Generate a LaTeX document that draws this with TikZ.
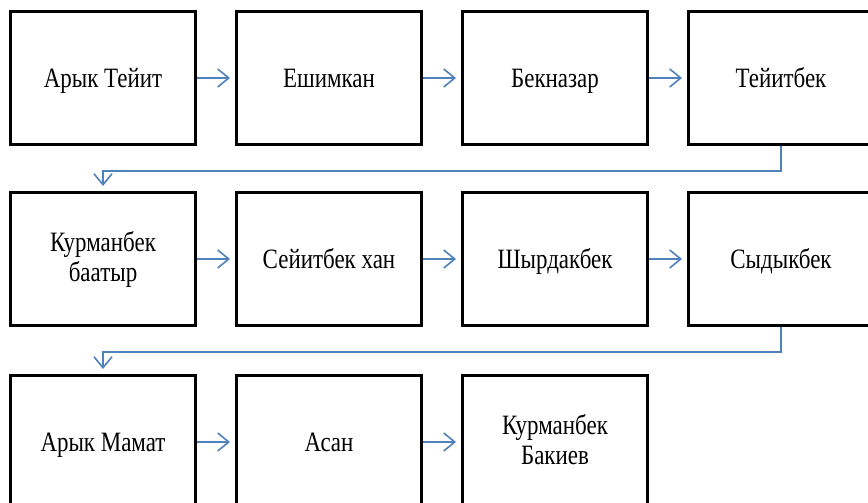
\documentclass[tikz,border=0pt]{standalone}
\usepackage{fontspec}
\setmainfont[FakeStretch=0.82]{Liberation Serif}
\usetikzlibrary{arrows.meta}
\definecolor{linkblue}{RGB}{79,129,189}
\newcommand{\boxstrut}{\rule[-6pt]{0pt}{31pt}}
\begin{document}
\begin{tikzpicture}[x=1pt,y=-1pt,
  box/.style={draw=black,line width=3pt,minimum width=185pt,minimum height=133pt,
              inner sep=0pt,align=center,font=\fontsize{28}{30}\selectfont,
              execute at begin node=\boxstrut,execute at end node=\boxstrut},
  link/.style={->,>={Straight Barb[length=11pt,width=18pt]},color=linkblue,line width=1.6pt,shorten >=5pt}]
\useasboundingbox (0,0) rectangle (868,503);
\clip (0,0) rectangle (868,503);

\node[box] (t1) at (103,78) {Арык Тейит};
\node[box] (t2) at (329,78) {Ешимкан};
\node[box] (t3) at (555,78) {Бекназар};
\node[box] (t4) at (781,78) {Тейитбек};

\node[box] (k1) at (103,259) {Курманбек\\баатыр};
\node[box] (k2) at (329,259) {Сейитбек хан};
\node[box] (k3) at (555,259) {Шырдакбек};
\node[box] (k4) at (781,259) {Сыдыкбек};

\node[box] (m1) at (103,442) {Арык Мамат};
\node[box] (m2) at (329,442) {Асан};
\node[box] (m3) at (555,442) {Курманбек\\Бакиев};

\draw[link] (t1) -- (t2);
\draw[link] (t2) -- (t3);
\draw[link] (t3) -- (t4);
\draw[link] (t4.south) -- ++(0,25) -| (k1.north);

\draw[link] (k1) -- (k2);
\draw[link] (k2) -- (k3);
\draw[link] (k3) -- (k4);
\draw[link] (k4.south) -- ++(0,25) -| (m1.north);

\draw[link] (m1) -- (m2);
\draw[link] (m2) -- (m3);
\end{tikzpicture}
\end{document}
